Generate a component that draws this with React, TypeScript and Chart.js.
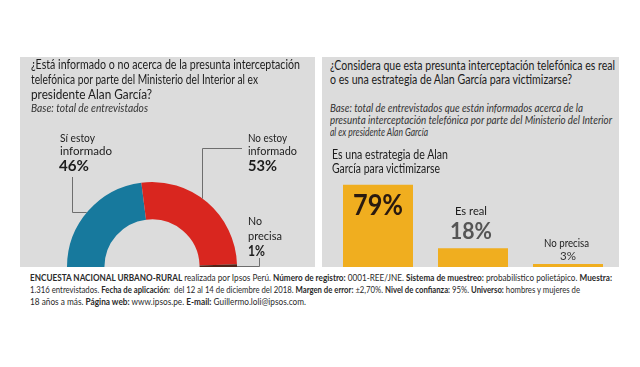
import React, { useEffect, useLayoutEffect, useRef } from "react";
import { Chart, registerables } from "chart.js";
Chart.register(...registerables);

// ---------- data ----------
const donutLabels = ["Sí estoy informado", "No estoy informado", "No precisa"];
const donutValues = [46, 53, 1];
const donutColors = ["#17799d", "#d9261f", "#4e2418"];

const barLabels = ["Es una estrategia de Alan García para victimizarse", "Es real", "No precisa"];
const barValues = [79, 18, 3];
const barColor = "#f0ae1f";

const leftTitle = [
  "¿Está informado o no acerca de la presunta interceptación",
  "telefónica por parte del Ministerio del Interior al ex",
  "presidente Alan García?",
];
const leftBase = "Base: total de entrevistados";
const rightTitle = [
  "¿Considera que esta presunta interceptación telefónica es real",
  "o es una estrategia de Alan García para victimizarse?",
];
const rightBase = [
  "Base: total de entrevistados que están informados acerca de la",
  "presunta interceptación telefónica por parte del Ministerio del Interior",
  "al ex presidente Alan García",
];
const footer: [string, boolean][][] = [
  [
    ["ENCUESTA NACIONAL URBANO-RURAL", true],
    [" realizada por Ipsos Perú. ", false],
    ["Número de registro:", true],
    [" 0001-REE/JNE. ", false],
    ["Sistema de muestreo:", true],
    [" probabilístico polietápico. ", false],
    ["Muestra:", true],
  ],
  [
    ["1.316 entrevistados. ", false],
    ["Fecha de aplicación:", true],
    ["  del 12 al 14 de diciembre del 2018. ", false],
    ["Margen de error:", true],
    [" ±2,70%. ", false],
    ["Nivel de confianza:", true],
    [" 95%. ", false],
    ["Universo:", true],
    [" hombres y mujeres de", false],
  ],
  [
    ["18 años a más. ", false],
    ["Página web:", true],
    [" www.ipsos.pe. ", false],
    ["E-mail:", true],
    [" Guillermo.loli@ipsos.com.", false],
  ],
];

const FONT = "Lato, 'Open Sans', sans-serif";
const PANEL = "#dcdcdc";

type FitProps = {
  x: number; y: number; w: number; size: number;
  bold?: boolean; italic?: boolean; color?: string; center?: boolean;
  children: React.ReactNode;
};

function FitText({ x, y, w, size, bold, italic, color, center, children }: FitProps) {
  const ref = useRef<HTMLSpanElement>(null);
  useLayoutEffect(() => {
    const el = ref.current;
    if (!el) return;
    const fit = () => {
      el.style.transform = "none";
      const nat = el.getBoundingClientRect().width;
      if (nat > 0) el.style.transform = `scaleX(${w / nat})`;
    };
    fit();
    (document as any).fonts?.ready?.then(fit);
  }, [w]);
  return (
    <span
      ref={ref}
      style={{
        position: "absolute",
        left: center ? x - w / 2 : x,
        top: y - size * 0.62,
        fontFamily: FONT,
        fontSize: size,
        lineHeight: `${size}px`,
        fontWeight: bold ? 700 : 400,
        fontStyle: italic ? "italic" : "normal",
        color: color || "#1c1c1c",
        whiteSpace: "nowrap",
        transformOrigin: "left center",
        display: "inline-block",
      }}
    >
      {children}
    </span>
  );
}

function Donut() {
  const ref = useRef<HTMLCanvasElement>(null);
  useEffect(() => {
    const leaders = {
      id: "leaders",
      afterDraw(chart: any) {
        const arc = chart.getDatasetMeta(0).data[0];
        if (!arc) return;
        const cx = arc.x, cy = arc.y, R = arc.outerRadius;
        const ctx = chart.ctx;
        ctx.save();
        ctx.strokeStyle = "#6e6e6e";
        ctx.lineWidth = 1;
        ctx.beginPath();
        // Sí estoy informado
        const ey = 155.5;
        ctx.moveTo(52.5, 120);
        ctx.lineTo(52.5, ey);
        ctx.lineTo(cx - Math.sqrt(R * R - (cy - ey) * (cy - ey)), ey);
        // No estoy informado
        const ex = 182.5;
        ctx.moveTo(222, 91.5);
        ctx.lineTo(ex, 91.5);
        ctx.lineTo(ex, cy - Math.sqrt(R * R - (ex - cx) * (ex - cx)));
        // No precisa
        ctx.moveTo(239.5, 201);
        ctx.lineTo(239.5, 209.5);
        ctx.lineTo(cx + R, 209.5);
        ctx.stroke();
        ctx.restore();
      },
    };
    const chart = new Chart(ref.current!, {
      type: "doughnut",
      data: {
        labels: donutLabels,
        datasets: [{ data: donutValues, backgroundColor: donutColors, borderWidth: 0 }],
      },
      options: {
        responsive: false,
        animation: false,
        rotation: -90,
        circumference: 180,
        cutout: "56%",
        layout: { padding: { left: 47, right: 78, top: 125, bottom: 0 } },
        plugins: { legend: { display: false }, tooltip: { enabled: false } },
      },
      plugins: [leaders],
    });
    return () => chart.destroy();
  }, []);
  return (
    <canvas
      ref={ref}
      width={295}
      height={210}
      style={{ position: "absolute", left: 20, top: 57, width: 295, height: 210 }}
    />
  );
}

function Bars() {
  const ref = useRef<HTMLCanvasElement>(null);
  useEffect(() => {
    const chart = new Chart(ref.current!, {
      type: "bar",
      data: {
        labels: barLabels,
        datasets: [{ data: barValues, backgroundColor: barColor, borderWidth: 0, barPercentage: 70 / 95, categoryPercentage: 1 }],
      },
      options: {
        responsive: false,
        animation: false,
        layout: { padding: { left: 8.5, right: 3.5, top: 13, bottom: 0 } },
        scales: {
          x: { display: false },
          y: { display: false, min: 0, max: 100 },
        },
        plugins: { legend: { display: false }, tooltip: { enabled: false } },
      },
    });
    return () => chart.destroy();
  }, []);
  return (
    <canvas
      ref={ref}
      width={297}
      height={117}
      style={{ position: "absolute", left: 322, top: 150, width: 297, height: 117 }}
    />
  );
}

export default function App() {
  return (
    <div style={{ position: "absolute", left: 0, top: 0, width: 640, height: 367, background: "#fff", overflow: "hidden" }}>
      <div style={{ position: "absolute", left: 20, top: 57, width: 295, height: 210, background: PANEL }} />
      <div style={{ position: "absolute", left: 322, top: 57, width: 297, height: 210, background: PANEL }} />
      <Donut />
      <Bars />

      <FitText x={31} y={67} w={269} size={12.5}>{leftTitle[0]}</FitText>
      <FitText x={31} y={82} w={227} size={12.5}>{leftTitle[1]}</FitText>
      <FitText x={31} y={97} w={121} size={12.5}>{leftTitle[2]}</FitText>
      <FitText x={31} y={110} w={117} size={10.5} italic color="#333">{leftBase}</FitText>

      <FitText x={60} y={139} w={35} size={12}>Sí estoy</FitText>
      <FitText x={60} y={152} w={52} size={12}>informado</FitText>
      <FitText x={59} y={167} w={30} size={15} bold>{donutValues[0]}%</FitText>

      <FitText x={248} y={139} w={39} size={12}>No estoy</FitText>
      <FitText x={248} y={152} w={49} size={12}>informado</FitText>
      <FitText x={248} y={167} w={29} size={15} bold>{donutValues[1]}%</FitText>

      <FitText x={248} y={222} w={14} size={12}>No</FitText>
      <FitText x={248} y={237} w={34} size={12}>precisa</FitText>
      <FitText x={248} y={252} w={17} size={15} bold>{donutValues[2]}%</FitText>

      <FitText x={330} y={68} w={285} size={12.5}>{rightTitle[0]}</FitText>
      <FitText x={330} y={82} w={242} size={12.5}>{rightTitle[1]}</FitText>
      <FitText x={330} y={110} w={253} size={10.5} italic color="#333">{rightBase[0]}</FitText>
      <FitText x={330} y={122} w={282} size={10.5} italic color="#333">{rightBase[1]}</FitText>
      <FitText x={330} y={134} w={98} size={10.5} italic color="#333">{rightBase[2]}</FitText>

      <FitText x={332} y={157} w={116} size={12.5}>Es una estrategia de Alan</FitText>
      <FitText x={332} y={171} w={108} size={12.5}>García para victimizarse</FitText>
      <FitText x={378} y={207} w={50} size={29} bold center color="#2a1a10">{barValues[0]}%</FitText>

      <FitText x={471} y={212} w={32} size={12} center>{barLabels[1]}</FitText>
      <FitText x={471} y={234} w={42} size={22} bold center color="#555">{barValues[1]}%</FitText>

      <FitText x={566} y={244} w={45} size={11} center>{barLabels[2]}</FitText>
      <FitText x={568} y={257} w={16} size={11} center color="#333">{barValues[2]}%</FitText>

      {footer.map((line, i) => (
        <FitText key={i} x={30} y={[279, 291, 303][i]} w={[582, 550, 276][i]} size={9.5} color="#2a2a2a">
          {line.map(([t, b], j) => (
            <span key={j} style={{ fontWeight: b ? 700 : 400, whiteSpace: "pre" }}>{t}</span>
          ))}
        </FitText>
      ))}
    </div>
  );
}
